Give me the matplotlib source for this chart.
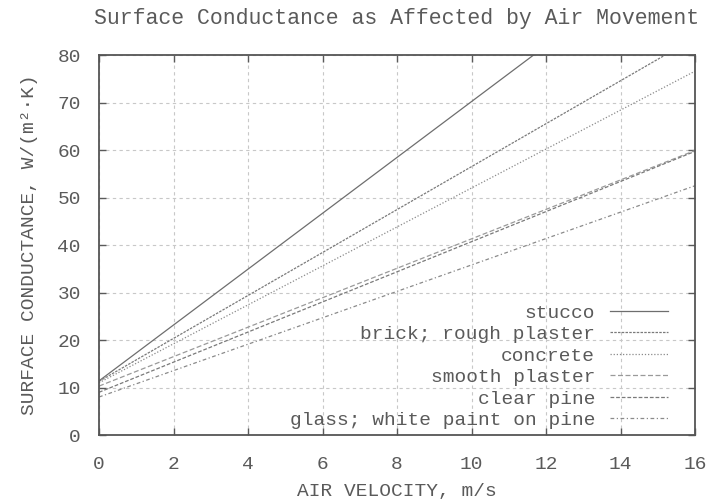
import numpy as np
import matplotlib
matplotlib.use("Agg")
import matplotlib.pyplot as plt

materials = ["stucco", "brick; rough plaster", "concrete", "smooth plaster",
             "clear pine", "glass; white paint on pine"]
intercepts = [11.4, 11.3, 11.0, 10.3, 9.0, 8.0]
slopes = [5.88, 4.52, 4.10, 3.10, 3.17, 2.78]
x_ticks = [0, 2, 4, 6, 8, 10, 12, 14, 16]
y_ticks = [0, 10, 20, 30, 40, 50, 60, 70, 80]

styles = ["-", (0, (2, 1)), (0, (1, 1.5)), (0, (4, 2)), (0, (3, 1.5)), (0, (3, 2, 1, 2))]
colors = ["#6e6e6e", "#7a7a7a", "#8a8a8a", "#9a9a9a", "#7a7a7a", "#8a8a8a"]

FS = 14
TC = "#5a5a5a"
plt.rcParams['font.family'] = ['Liberation Mono', 'DejaVu Sans Mono']
fig = plt.figure(figsize=(7.16, 5.01), dpi=100)
ax = fig.add_axes([0.1383, 0.1317, 0.8324, 0.7585])

v = np.array([0.0, 16.0])
for name, a, b, ls, c in zip(materials, intercepts, slopes, styles, colors):
    ax.plot(v, a + b * v, linestyle=ls, color=c, lw=0.9, label=name)

ax.set_xlim(0, 16)
ax.set_ylim(0, 80)
ax.set_xticks(x_ticks)
ax.set_yticks(y_ticks)
ax.grid(True, color="#c8c8c8", linestyle=(0, (3, 3)), lw=0.8)
ax.tick_params(direction="in", top=True, right=True, length=5, width=1,
               colors=TC, labelcolor=TC, labelsize=FS)
ax.tick_params(axis="x", pad=15)
ax.tick_params(axis="y", pad=13)
for s in ax.spines.values():
    s.set_color("#555555")
    s.set_linewidth(1.3)

ax.set_title("Surface Conductance as Affected by Air Movement",
             fontsize=15.5, color=TC, pad=22)
ax.set_xlabel("AIR VELOCITY, m/s", fontsize=FS, color=TC, labelpad=7)
ax.set_ylabel("SURFACE CONDUCTANCE, W/(m²·K)", fontsize=FS, color=TC, labelpad=14)

leg = ax.legend(loc="lower right", frameon=False, markerfirst=False,
                fontsize=FS, handlelength=3.0, labelspacing=0.2,
                borderaxespad=0.0, borderpad=0.0, handletextpad=0.75,
                bbox_to_anchor=((668 - 99) / 596, (435 - 429) / 380))
for t in leg.get_texts():
    t.set_color(TC)
    t.set_ha("right")

fig.savefig("out.png", dpi=100)
